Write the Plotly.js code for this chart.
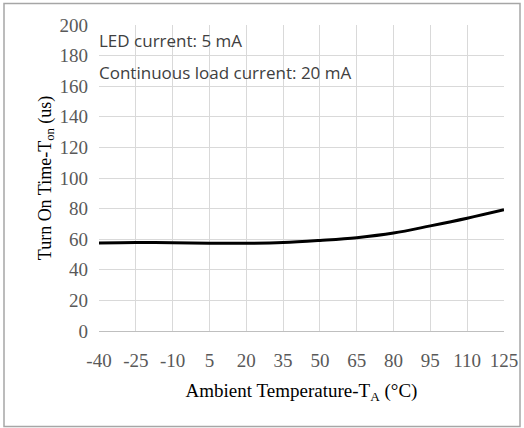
<!DOCTYPE html>
<html>
<head>
<meta charset="utf-8">
<script src="https://cdn.plot.ly/plotly-3.0.1.min.js"></script>
<style>
html,body{margin:0;padding:0;background:#fff;}
#chart{width:524px;height:428px;}
</style>
</head>
<body>
<div id="chart"></div>
<script>
const temperatures = [-40, -25, -10, 5, 20, 35, 50, 65, 80, 95, 110, 125];
const turnOnTime = [57.5, 57.8, 57.7, 57.4, 57.3, 57.8, 59.2, 61.0, 64.0, 68.7, 73.7, 79.2];
const xTickVals = [-40, -25, -10, 5, 20, 35, 50, 65, 80, 95, 110, 125];
const yTickVals = [0, 20, 40, 60, 80, 100, 120, 140, 160, 180, 200];
const notes = ["LED current: 5 mA", "Continuous load current: 20 mA"];

const serif = "Liberation Serif, Times New Roman, serif";
const sans = "Open Sans, Noto Sans, sans-serif";

const trace = {
  x: temperatures,
  y: turnOnTime,
  type: 'scatter',
  mode: 'lines',
  line: {color: '#000000', width: 3, shape: 'spline', smoothing: 1},
  hoverinfo: 'skip'
};

const layout = {
  width: 524,
  height: 428,
  margin: {l: 99, r: 20, t: 25, b: 97},
  paper_bgcolor: '#ffffff',
  plot_bgcolor: '#ffffff',
  showlegend: false,
  xaxis: {
    range: [-40, 125],
    tickmode: 'array',
    tickvals: xTickVals,
    ticktext: xTickVals.map(String),
    showgrid: true,
    gridcolor: '#d9d9d9',
    gridwidth: 1,
    zeroline: false,
    showline: true,
    linecolor: '#bfbfbf',
    linewidth: 1,
    ticks: '',
    ticklen: 0,
    ticklabelstandoff: 12,
    tickfont: {family: serif, size: 19, color: '#595959'},
    title: {text: 'Ambient Temperature-T<sub>A</sub> (°C)', font: {family: serif, size: 19, color: '#000000'}, standoff: 13},
    automargin: false
  },
  yaxis: {
    range: [0, 200],
    tickmode: 'array',
    tickvals: yTickVals,
    ticktext: yTickVals.map(String),
    showgrid: true,
    gridcolor: '#d9d9d9',
    gridwidth: 1,
    zeroline: false,
    showline: false,
    ticks: '',
    ticklen: 0,
    ticklabelstandoff: 10,
    tickfont: {family: serif, size: 19, color: '#595959'},
    title: {text: 'Turn On Time-T<sub>on</sub> (us)', font: {family: serif, size: 18, color: '#000000'}, standoff: 3},
    automargin: false
  },
  annotations: notes.map((t, i) => ({
    text: t,
    xref: 'paper', yref: 'paper',
    x: 0, y: i === 0 ? 0.95 : 0.845,
    xshift: -2,
    xanchor: 'left', yanchor: 'middle',
    showarrow: false,
    font: {family: sans, size: 17, color: '#404040'}
  })),
  shapes: [{
    type: 'rect', xref: 'paper', yref: 'paper',
    x0: (4 - 99) / 405, x1: (520 - 99) / 405,
    y0: (331 - 426.5) / 306, y1: (331 - 3.5) / 306,
    line: {color: '#a6a6a6', width: 1.5},
    fillcolor: 'rgba(0,0,0,0)',
    layer: 'below'
  }]
};

Plotly.newPlot('chart', [trace], layout, {staticPlot: true, displayModeBar: false});
</script>
</body>
</html>
